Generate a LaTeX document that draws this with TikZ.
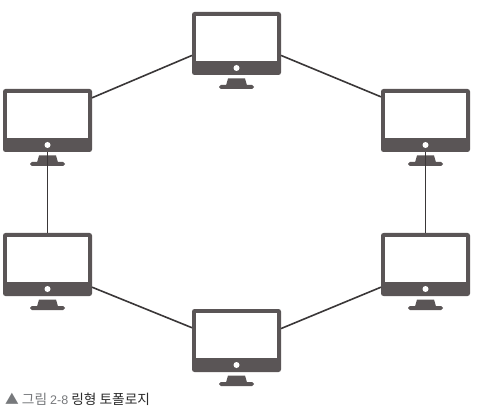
\documentclass[tikz,border=0pt]{standalone}
\usepackage{fontspec}
\newfontfamily\kr{Noto Sans CJK KR}
\newfontfamily\la{Liberation Sans}
\definecolor{mon}{HTML}{5A5556}
\definecolor{lnk}{HTML}{3A3738}
\definecolor{capg}{HTML}{77797C}
\definecolor{capd}{HTML}{2B2B2B}
\tikzset{
  frame/.style={draw=none,fill=mon,rounded corners=2.5pt,minimum width=89pt,minimum height=63pt,inner sep=0pt,outer sep=0pt},
  link/.style={draw=lnk,line width=1.6pt},
}
\newcommand{\monitor}[3]{%
  \node[frame] (#1) at (#2,#3) {};
  \fill[white] (#2-40.5,#3-27.5) rectangle (#2+40.5,#3+17.5);
  \fill[white] (#2,#3+24.5) circle (3pt);
  \fill[mon] (#2-8.5,#3+35) -- (#2+8.5,#3+35) -- (#2+10.5,#3+42) -- (#2-10.5,#3+42) -- cycle;
  \fill[mon,rounded corners=1.8pt] (#2-17.5,#3+41.5) rectangle (#2+17.5,#3+45.5);
}
\begin{document}
\begin{tikzpicture}[x=1pt,y=-1pt]
\useasboundingbox (0,0) rectangle (482,414);
\fill[white] (0,0) rectangle (482,414);
\monitor{top}{236.5}{43.5}
\monitor{lu}{47.5}{120.5}
\monitor{ru}{425.5}{120.5}
\monitor{ll}{47.5}{264.5}
\monitor{rl}{425.5}{264.5}
\monitor{bot}{236.5}{340.5}
\draw[link] (lu.27.8) -- (top.195.7);
\draw[link] (top.-15.7) -- (ru.152.2);
\draw[link] (lu.south) -- (ll.north);
\draw[link] (ru.south) -- (rl.north);
\draw[link] (ll.-27.8) -- (bot.164.3);
\draw[link] (bot.15.7) -- (rl.207.8);
\node[anchor=base west,inner sep=0pt,font=\kr\fontsize{13.7pt}{15pt}\selectfont] (cap) at (5,404)
  {\textcolor{capg}{▲ 그림 {\la\fontsize{12.5pt}{14pt}\selectfont 2-8}} \textcolor{capd}{링형 토폴로지}};
\end{tikzpicture}
\end{document}
